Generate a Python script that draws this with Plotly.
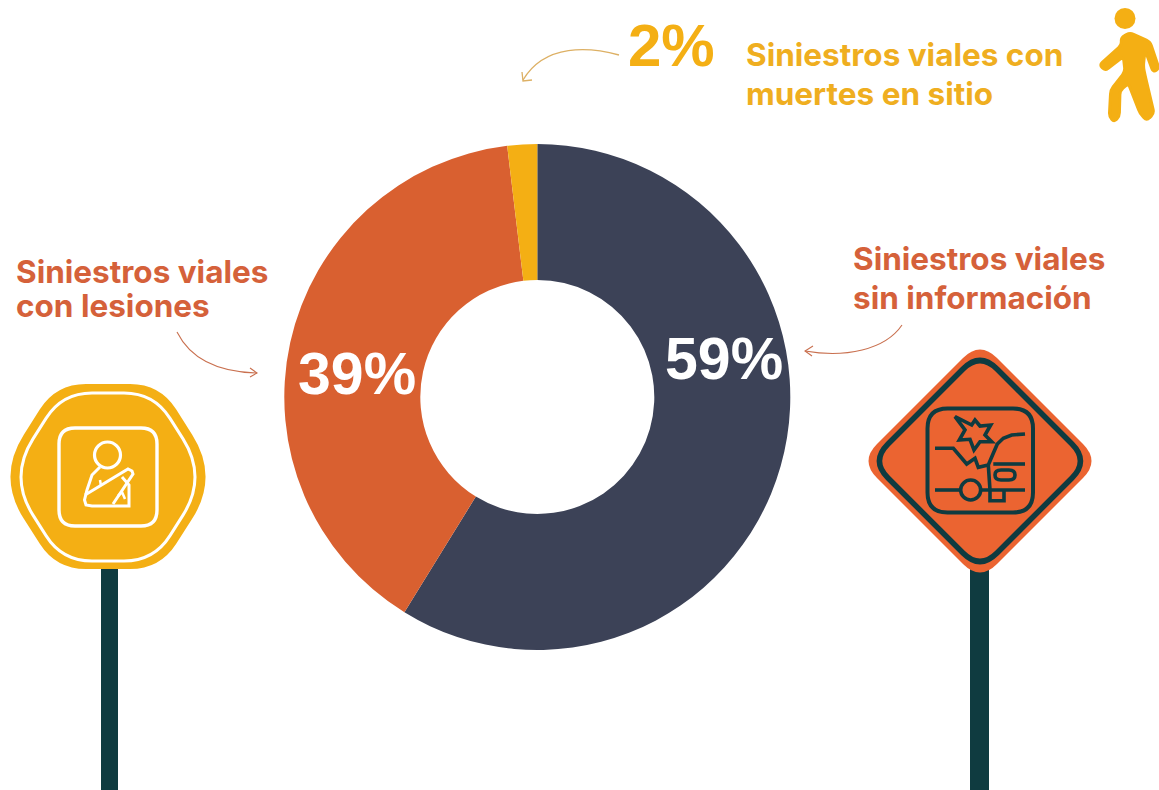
import plotly.graph_objects as go

categories = ["Siniestros viales sin información", "Siniestros viales con lesiones", "Siniestros viales con muertes en sitio"]
values = [58.8, 39.3, 1.9]
pct_labels = ["59%", "39%", "2%"]

W, H = 1159, 790
NAVY, ORANGE, YELLOW = "#3C4257", "#D96030", "#F4AF14"
LABEL_OR, LABEL_YE = "#D5613A", "#EFAE20"
SIGN_OR, POST = "#EB6431", "#0F3B40"
CX, CY, R, HOLE_R = 537.3, 397, 253, 117

def rounded(pts, r):
    rs = r if isinstance(r, (list, tuple)) else [r] * len(pts)
    n = len(pts); d = ""
    for i in range(n):
        p0, p1, p2 = pts[i - 1], pts[i], pts[(i + 1) % n]
        def toward(a, b, t):
            L = ((b[0]-a[0])**2 + (b[1]-a[1])**2) ** .5
            t = min(t, L / 2)
            return (a[0] + (b[0]-a[0]) * t / L, a[1] + (b[1]-a[1]) * t / L)
        s, e = toward(p1, p0, rs[i]), toward(p1, p2, rs[i])
        d += f"{'M' if i == 0 else 'L'} {s[0]:.1f} {s[1]:.1f} Q {p1[0]} {p1[1]} {e[0]:.1f} {e[1]:.1f} "
    return d + "Z"

def rrect(x0, y0, x1, y1, r):
    return rounded([(x0, y0), (x1, y0), (x1, y1), (x0, y1)], r)

def circle(cx, cy, r):
    return dict(type="circle", x0=cx - r, x1=cx + r, y0=cy - r, y1=cy + r)

def open_path(pts, ox=0, oy=0, k=1):
    return "M " + " L ".join(f"{x * k + ox:.1f} {y * k + oy:.1f}" for x, y in pts)

shapes = []
def add_path(path, fill=None, line=None, w=0):
    s = dict(type="path", path=path, xref="x", yref="y", line=dict(width=w, color=line or "rgba(0,0,0,0)"))
    if fill: s["fillcolor"] = fill
    shapes.append(s)

def add_circle(cx, cy, r, fill=None, line=None, w=0):
    s = circle(cx, cy, r); s.update(xref="x", yref="y", line=dict(width=w, color=line or "rgba(0,0,0,0)"))
    if fill: s["fillcolor"] = fill
    shapes.append(s)

# posts
shapes.append(dict(type="rect", xref="x", yref="y", x0=101, x1=118, y0=566, y1=790, fillcolor=POST, line=dict(width=0)))
shapes.append(dict(type="rect", xref="x", yref="y", x0=970, x1=989, y0=568, y1=790, fillcolor=POST, line=dict(width=0)))

# yellow sign
add_path(rounded([(56, 384), (160, 384), (219, 477), (160, 569), (56, 569), (-3, 477)], [30, 30, 50, 30, 30, 50]), fill=YELLOW)
add_path(rounded([(62, 393), (154, 393), (207, 477), (154, 561), (62, 561), (9, 477)], [30, 30, 45, 30, 30, 45]), line="#FFFFFF", w=3)
add_path(rrect(59, 428, 157, 526, 16), line="#FFFFFF", w=3.4)
add_circle(107.5, 455, 13, line="#FFFFFF", w=3.2)
add_path(open_path([(100, 467), (92, 475), (87, 490), (84.5, 500), (86, 505), (92, 506), (129, 506), (129, 485), (122, 477)]), line="#FFFFFF", w=3)
add_path(open_path([(85, 495), (128, 469), (132, 471), (133, 474), (113, 504)]), line="#FFFFFF", w=3)
add_path(open_path([(100, 480), (101, 486)]), line="#FFFFFF", w=2.5)
add_path(open_path([(118, 496), (122, 492), (125, 499)]), line="#FFFFFF", w=2.5)

# orange diamond
def diamond(cx, cy, h, t):
    return rounded([(cx, cy - h), (cx + h, cy), (cx, cy + h), (cx - h, cy)], t)
add_path(diamond(980, 461, 120, 24), fill=SIGN_OR)
add_path(diamond(980, 461, 109, 24), line=POST, w=5.5)
add_path(rrect(927.5, 408.5, 1033, 512.5, 20), line=POST, w=4)

ZX, ZY, ZK = 860, 340, 1 / 3
IW = 3.6
star = [(285, 230), (335, 255), (345, 240), (360, 258), (392, 255), (375, 285), (395, 305), (360, 305), (342, 330), (330, 298), (298, 300), (315, 270)]
add_path(open_path(star, ZX, ZY, ZK) + " Z", line=POST, w=IW)
hood = [(225, 325), (280, 325), (320, 372), (345, 355), (355, 382), (385, 375), (400, 340), (412, 312), (430, 295), (455, 285), (495, 282)]
add_path(open_path(hood, ZX, ZY, ZK), line=POST, w=IW)
add_path(open_path([(400, 372), (495, 372)], ZX, ZY, ZK), line=POST, w=IW)
add_path(open_path([(385, 375), (390, 450), (390, 482), (432, 482), (432, 450)], ZX, ZY, ZK), line=POST, w=IW)
add_path(open_path([(225, 450), (305, 450)], ZX, ZY, ZK), line=POST, w=IW)
add_path(open_path([(362, 450), (495, 450)], ZX, ZY, ZK), line=POST, w=IW)
add_circle(860 + 332 / 3, 340 + 450 / 3, 10, line=POST, w=IW)
add_path(rrect(860 + 405 / 3, 340 + 390 / 3, 860 + 465 / 3, 340 + 420 / 3, 6), line=POST, w=IW)

# pedestrian
add_circle(1125, 18.5, 10.5, fill=YELLOW)
ped = [(120, 98), (180, 125), (207, 205), (190, 217), (165, 150), (160, 200), (165, 225), (192, 340), (170, 362), (150, 340), (115, 250), (90, 272), (88, 350), (72, 366), (58, 350), (62, 270), (105, 215), (100, 170), (45, 212), (28, 195), (95, 135), (93, 112)]
add_path(rounded([(1090 + x / 3, y / 3) for x, y in ped], 4), fill=YELLOW, line=YELLOW, w=3)

# arrows
A1, A2 = "#DDB064", "#C9704F"
add_path("M 619 55 C 590 47 545 43 523 80", line=A1, w=1.3)
add_path("M 522 72 L 523 81 L 532 80", line=A1, w=1.3)
add_path("M 177 332 C 190 358 215 372 257 373", line=A2, w=1.1)
add_path("M 250 368 L 257 373 L 250 377", line=A2, w=1.1)
add_path("M 902 325 C 885 350 845 358 805 351", line=A2, w=1.1)
add_path("M 813 346 L 805 351 L 812 356", line=A2, w=1.1)

TXT = "Inter, Arial, sans-serif"
NUM = "Liberation Sans, Arial, sans-serif"
def label(x, y, text, color, size=31.5, family=TXT, anchor="left"):
    return dict(x=x, y=y, xref="x", yref="y", text=text, showarrow=False, xanchor=anchor, yanchor="middle",
                align="left", font=dict(family=family, size=size, color=color, weight=700))

annotations = [
    label(662.5, 359, f"<b>{pct_labels[0]}</b>", "#FFFFFF", 59, NUM),
    label(295.5, 374, f"<b>{pct_labels[1]}</b>", "#FFFFFF", 59, NUM),
    label(626, 45, f"<b>{pct_labels[2]}</b>", YELLOW, 60, NUM),
    label(744, 54.5, "Siniestros viales con", LABEL_YE),
    label(744, 93, "muertes en sitio", LABEL_YE),
    label(14, 271, "Siniestros viales", LABEL_OR),
    label(14, 305, "con lesiones", LABEL_OR),
    label(851, 258, "Siniestros viales", LABEL_OR),
    label(851, 297, "sin información", LABEL_OR),
]

fig = go.Figure()
fig.add_trace(go.Pie(
    labels=categories, values=values, sort=False, direction="clockwise", rotation=0,
    hole=HOLE_R / R, textinfo="none", showlegend=False,
    marker=dict(colors=[NAVY, ORANGE, YELLOW], line=dict(width=0)),
    domain=dict(x=[(CX - R) / W, (CX + R) / W], y=[1 - (CY + R) / H, 1 - (CY - R) / H]),
))
fig.update_layout(
    width=W, height=H, margin=dict(l=0, r=0, t=0, b=0), paper_bgcolor="white", plot_bgcolor="rgba(0,0,0,0)",
    xaxis=dict(range=[0, W], visible=False, domain=[0, 1], fixedrange=True),
    yaxis=dict(range=[H, 0], visible=False, domain=[0, 1], fixedrange=True),
    shapes=shapes, annotations=annotations,
)
# a cartesian trace keeps the pixel axes alive for the shapes and annotations
fig.add_trace(go.Scatter(x=[], y=[], showlegend=False, hoverinfo="skip"))
fig.write_html("out.html", config=dict(displayModeBar=False),
               post_script="document.body.style.margin='0';document.body.style.overflow='hidden';")
